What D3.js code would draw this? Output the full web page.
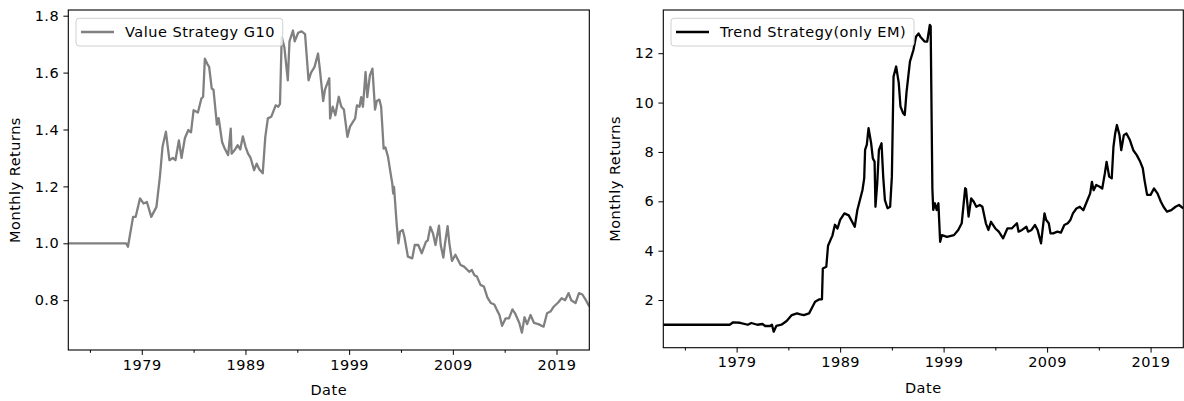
<!DOCTYPE html>
<html>
<head>
<meta charset="utf-8">
<script src="https://cdn.jsdelivr.net/npm/d3@7"></script>
<style>
  html, body { margin: 0; padding: 0; background: #fff; }
  svg { display: block; font-family: "DejaVu Sans", sans-serif; }
  svg text { letter-spacing: 0.5px; }
</style>
</head>
<body>
<svg id="chart" width="1184" height="401"></svg>
<script>
// Cumulative value of the G10 value strategy (month, level)
const valueDates = ["1971-12","1977-07","1977-09","1978-03","1978-06","1978-11","1979-03","1979-07","1979-12","1980-06","1980-10","1981-01","1981-05","1981-09","1982-01","1982-04","1982-08","1982-11","1983-03","1983-07","1983-10","1984-01","1984-06","1984-10","1984-12","1985-02","1985-05","1985-07","1985-10","1985-12","1986-04","1986-06","1986-10","1987-01","1987-05","1987-08","1987-09","1988-01","1988-04","1988-07","1988-10","1989-01","1989-04","1989-07","1989-11","1990-02","1990-05","1990-09","1990-12","1991-03","1991-07","1991-12","1992-03","1992-05","1992-07","1992-10","1993-02","1993-04","1993-08","1993-10","1994-02","1994-06","1994-10","1995-02","1995-05","1995-09","1996-01","1996-03","1996-07","1996-09","1997-02","1997-03","1997-06","1997-09","1998-01","1998-04","1998-07","1998-11","1999-02","1999-08","1999-10","2000-01","2000-03","2000-05","2000-08","2000-10","2001-01","2001-04","2001-07","2001-09","2001-12","2002-02","2002-05","2002-07","2002-10","2003-01","2003-03","2003-04","2003-05","2003-08","2003-10","2003-12","2004-03","2004-05","2004-09","2005-02","2005-05","2005-09","2006-01","2006-06","2006-08","2006-11","2007-02","2007-05","2007-09","2007-11","2008-02","2008-04","2008-07","2008-09","2008-12","2009-04","2009-10","2010-02","2010-08","2010-11","2011-02","2011-05","2011-09","2012-01","2012-05","2012-09","2013-01","2013-04","2013-07","2013-10","2014-02","2014-06","2014-10","2015-01","2015-06","2015-09","2015-12","2016-03","2016-07","2016-11","2017-04","2017-10","2018-02","2018-06","2018-10","2019-03","2019-07","2019-11","2020-03","2020-06","2020-11","2021-03","2021-07","2021-11","2022-03"];
const valueSeries = [1.0,1.0,0.988,1.093,1.093,1.158,1.14,1.145,1.093,1.128,1.234,1.339,1.392,1.292,1.30,1.292,1.362,1.30,1.37,1.398,1.39,1.468,1.46,1.509,1.515,1.649,1.63,1.62,1.544,1.54,1.417,1.44,1.356,1.333,1.31,1.403,1.315,1.33,1.345,1.33,1.376,1.34,1.315,1.30,1.257,1.28,1.26,1.246,1.374,1.439,1.445,1.485,1.48,1.49,1.725,1.69,1.573,1.71,1.748,1.71,1.74,1.745,1.735,1.573,1.60,1.62,1.667,1.616,1.50,1.54,1.58,1.439,1.48,1.45,1.515,1.48,1.47,1.374,1.41,1.439,1.485,1.48,1.514,1.48,1.602,1.514,1.59,1.614,1.47,1.50,1.505,1.48,1.333,1.337,1.304,1.246,1.21,1.175,1.198,1.07,1.0,1.041,1.047,1.023,0.953,0.947,0.994,0.994,0.965,1.006,1.01,1.058,1.035,0.994,1.062,0.994,0.95,1.0,1.06,1.0,0.938,0.96,0.924,0.918,0.90,0.906,0.888,0.883,0.854,0.848,0.81,0.79,0.785,0.766,0.748,0.71,0.736,0.736,0.768,0.754,0.72,0.686,0.74,0.716,0.748,0.72,0.716,0.707,0.754,0.76,0.778,0.792,0.807,0.80,0.825,0.80,0.79,0.825,0.82,0.80,0.778];

// Cumulative value of the EM-only trend strategy (month, level)
const trendDates = ["1971-12","1978-05","1978-09","1979-05","1980-02","1980-06","1981-01","1981-07","1981-10","1982-04","1982-06","1982-08","1982-11","1983-05","1983-11","1984-05","1984-11","1985-03","1985-07","1986-01","1986-04","1986-08","1987-01","1987-04","1987-05","1987-09","1987-11","1988-02","1988-04","1988-07","1988-10","1989-01","1989-06","1989-11","1990-06","1990-09","1990-12","1991-03","1991-05","1991-06","1991-08","1991-10","1992-01","1992-03","1992-05","1992-06","1992-08","1992-10","1993-01","1993-03","1993-05","1993-08","1993-11","1994-01","1994-03","1994-06","1994-09","1994-11","1995-02","1995-04","1995-06","1995-10","1996-02","1996-05","1996-08","1996-10","1997-03","1997-06","1997-09","1997-10","1997-12","1998-01","1998-03","1998-05","1998-07","1998-09","1998-11","1999-05","2000-01","2000-06","2000-10","2001-02","2001-03","2001-06","2001-09","2001-12","2002-03","2002-07","2002-10","2003-02","2003-05","2003-08","2004-01","2004-05","2004-10","2005-03","2005-08","2005-12","2006-02","2006-04","2006-08","2007-01","2007-03","2007-07","2007-11","2008-02","2008-04","2008-06","2008-10","2008-12","2009-03","2009-05","2009-08","2010-01","2010-05","2010-09","2011-01","2011-04","2011-07","2011-11","2012-03","2012-07","2012-11","2013-03","2013-05","2013-07","2013-10","2014-02","2014-05","2014-08","2014-10","2015-01","2015-04","2015-06","2015-08","2015-10","2016-01","2016-03","2016-06","2016-09","2017-01","2017-05","2017-09","2018-01","2018-04","2018-06","2018-09","2019-01","2019-05","2019-09","2020-01","2020-04","2020-08","2021-01","2021-06","2021-10","2022-03"];
const trendSeries = [1.0,1.0,1.1,1.08,1.0,1.07,1.0,1.03,0.95,0.95,1.0,0.72,0.95,1.0,1.15,1.39,1.46,1.42,1.39,1.46,1.66,1.93,2.03,2.03,3.28,3.35,4.2,4.45,4.6,5.05,4.9,5.25,5.51,5.43,4.97,5.65,6.05,6.46,6.93,8.08,8.3,8.96,8.35,7.74,7.6,5.78,6.7,8.08,8.35,7.0,6.05,5.72,5.78,7.0,11.05,11.46,10.8,9.84,9.57,9.5,10.4,11.66,12.13,12.67,12.8,12.67,12.47,12.47,13.15,13.1,6.5,5.65,5.92,5.65,5.92,4.36,4.63,4.56,4.63,4.84,5.11,6.53,6.5,5.38,6.12,5.98,5.78,5.85,5.78,5.11,4.84,5.17,4.9,4.77,4.5,4.9,4.9,5.04,5.11,4.77,4.84,4.97,4.77,4.84,5.04,4.84,4.57,4.3,5.51,5.24,5.11,4.7,4.7,4.77,4.73,5.04,5.11,5.24,5.51,5.71,5.78,5.64,5.98,6.32,6.79,6.45,6.66,6.59,6.52,7.13,7.6,7.0,6.93,8.21,8.75,9.09,8.68,8.07,8.68,8.75,8.48,8.07,7.87,7.6,7.34,6.86,6.26,6.26,6.52,6.32,5.98,5.78,5.58,5.64,5.78,5.85,5.71];

// Axis ticks
const majorYears = [1979, 1989, 1999, 2009, 2019];
const minorYears = [1974, 1984, 1994, 2004, 2014];
const valueTicks = [0.8, 1.0, 1.2, 1.4, 1.6, 1.8];
const trendTicks = [2, 4, 6, 8, 10, 12];

const parseMonth = d3.timeParse("%Y-%m");
const svg = d3.select("#chart");
const FONT = 14.5;

function drawPanel(cfg) {
  const g = svg.append("g");
  const x = d3.scaleTime()
    .domain([new Date(1971, 11, 1), new Date(2022, 2, 1)])
    .range([cfg.left, cfg.right]);
  const y = d3.scaleLinear().domain(cfg.yDomain).range([cfg.bottom, cfg.top]);

  const data = cfg.dates.map((d, i) => ({ date: parseMonth(d), v: cfg.values[i] }));

  // series line, clipped to the plot area
  const clipId = "clip-" + cfg.id;
  g.append("clipPath").attr("id", clipId).append("rect")
    .attr("x", cfg.left).attr("y", cfg.top)
    .attr("width", cfg.right - cfg.left).attr("height", cfg.bottom - cfg.top);
  g.append("path")
    .datum(data)
    .attr("clip-path", `url(#${clipId})`)
    .attr("fill", "none")
    .attr("stroke", cfg.color)
    .attr("stroke-width", 2.3)
    .attr("stroke-linejoin", "round")
    .attr("d", d3.line().x(d => x(d.date)).y(d => y(d.v)));

  // x axis: major labelled ticks and minor ticks
  const xMajor = d3.axisBottom(x)
    .tickValues(majorYears.map(yr => new Date(yr, 0, 1)))
    .tickFormat(d3.timeFormat("%Y"))
    .tickSize(4.9).tickPadding(4.5);
  const xMinor = d3.axisBottom(x)
    .tickValues(minorYears.map(yr => new Date(yr, 0, 1)))
    .tickFormat("").tickSize(2.8);
  const gx = g.append("g").attr("transform", `translate(0,${cfg.bottom})`).call(xMajor);
  const gxm = g.append("g").attr("transform", `translate(0,${cfg.bottom})`).call(xMinor);

  const yAxis = d3.axisLeft(y)
    .tickValues(cfg.yTicks)
    .tickFormat(cfg.yFormat)
    .tickSize(4.9).tickPadding(4.2);
  const gy = g.append("g").attr("transform", `translate(${cfg.left},0)`).call(yAxis);

  [gx, gxm, gy].forEach(a => {
    a.select(".domain").remove();
    a.selectAll("line").attr("stroke", "#000").attr("stroke-width", 1);
    a.selectAll("text")
      .attr("font-family", "DejaVu Sans")
      .attr("font-size", FONT)
      .attr("fill", "#000");
  });

  // frame
  g.append("rect")
    .attr("x", cfg.left).attr("y", cfg.top)
    .attr("width", cfg.right - cfg.left).attr("height", cfg.bottom - cfg.top)
    .attr("fill", "none").attr("stroke", "#000").attr("stroke-width", 1.1);

  // axis titles
  g.append("text")
    .attr("x", (cfg.left + cfg.right) / 2).attr("y", cfg.bottom + 45)
    .attr("text-anchor", "middle").attr("font-size", FONT).attr("fill", "#000")
    .text("Date");
  g.append("text")
    .attr("transform", `translate(${cfg.yLabelX},${(cfg.top + cfg.bottom) / 2}) rotate(-90)`)
    .attr("text-anchor", "middle").attr("font-size", FONT).attr("fill", "#000")
    .text("Monthly Returns");

  // legend
  const lg = g.append("g");
  lg.append("rect")
    .attr("x", cfg.left + 7.7).attr("y", cfg.top + 8.3)
    .attr("width", cfg.legendWidth).attr("height", 27.7)
    .attr("rx", 3).attr("fill", "#fff").attr("fill-opacity", 0.8)
    .attr("stroke", "#d0d0d0").attr("stroke-width", 1);
  lg.append("line")
    .attr("x1", cfg.left + 12.7).attr("x2", cfg.left + 45.7)
    .attr("y1", cfg.top + 22).attr("y2", cfg.top + 22)
    .attr("stroke", cfg.color).attr("stroke-width", 2.3);
  lg.append("text")
    .attr("x", cfg.left + 56.7).attr("y", cfg.top + 27)
    .attr("font-size", FONT).attr("fill", "#000")
    .text(cfg.label);
}

drawPanel({
  id: "value", left: 68.3, right: 589.3, top: 10, bottom: 350,
  yDomain: [0.625, 1.82], yTicks: valueTicks, yFormat: d3.format(".1f"),
  dates: valueDates, values: valueSeries, color: "#808080",
  label: "Value Strategy G10", legendWidth: 206.7, yLabelX: 20
});

drawPanel({
  id: "trend", left: 663.3, right: 1183.3, top: 10, bottom: 347.7,
  yDomain: [0.07, 13.75], yTicks: trendTicks, yFormat: d3.format("d"),
  dates: trendDates, values: trendSeries, color: "#000000",
  label: "Trend Strategy(only EM)", legendWidth: 243, yLabelX: 620
});
</script>
</body>
</html>
